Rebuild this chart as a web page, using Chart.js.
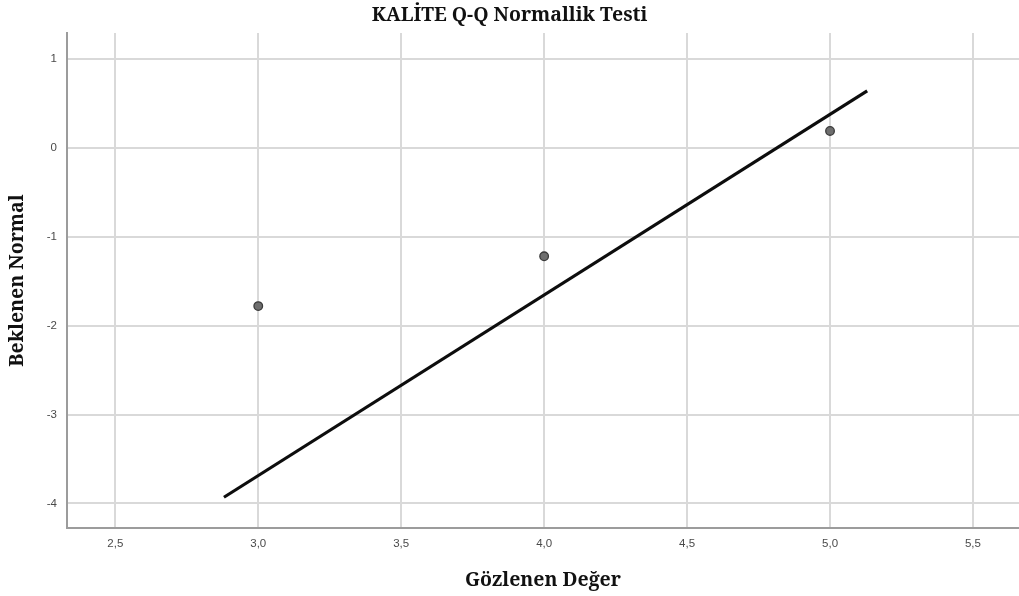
<!DOCTYPE html>
<html>
<head>
<meta charset="utf-8">
<script src="https://cdn.jsdelivr.net/npm/chart.js@4.4.1/dist/chart.umd.min.js"></script>
<style>
  html, body { margin: 0; padding: 0; background: #fff; overflow: hidden; }
  canvas { display: block; }
</style>
</head>
<body>
<canvas id="qqCanvas" width="1019" height="596"></canvas>
<script>
// observed values and expected normal quantiles
var observed = [3.0, 4.0, 5.0];
var expected = [-1.78, -1.22, 0.19];

// reference line end points
var lineX = [2.88, 5.13];
var lineY = [-3.93, 0.64];

// tick labels
var xTicks = [2.5, 3.0, 3.5, 4.0, 4.5, 5.0, 5.5];
var yTicks = [-4, -3, -2, -1, 0, 1];

var titleFont = '"Noto Serif", "DejaVu Serif", serif';
var tickFont = '"Liberation Sans Narrow", "Liberation Sans", sans-serif';

var points = observed.map(function (v, i) { return { x: v, y: expected[i] }; });
var refLine = lineX.map(function (v, i) { return { x: v, y: lineY[i] }; });

var canvas = document.getElementById("qqCanvas");

//**** Q-Q chart ****
var qqChart = new Chart(canvas, {
    type: 'scatter',
    data: {
        datasets: [{
            label: 'Gözlenen',
            data: points,
            pointRadius: 4.3,
            pointBackgroundColor: '#6e6e6e',
            pointBorderColor: '#3a3a3a',
            pointBorderWidth: 1.3,
            order: 2
        }, {
            label: 'Normal',
            data: refLine,
            showLine: true,
            borderColor: '#0d0d0d',
            borderWidth: 3.2,
            pointRadius: 0,
            order: 1
        }]
    },
    options: {
        responsive: false,
        maintainAspectRatio: false,
        animation: false,
        layout: { padding: 0, autoPadding: false },
        plugins: {
            legend: { display: false },
            tooltip: { enabled: false },
            title: {
                display: true,
                text: 'KALİTE Q-Q Normallik Testi',
                color: '#111111',
                font: { family: titleFont, size: 19.5, weight: 'bold' },
                padding: { top: 4, bottom: 5.6 }
            }
        },
        scales: {
            x: {
                type: 'linear',
                min: 2.331,
                max: 5.661,
                afterBuildTicks: function (scale) {
                    scale.ticks = xTicks.map(function (v) { return { value: v }; });
                },
                afterFit: function (scale) {
                    scale.height = 68;
                    scale.paddingLeft = 0;
                    scale.paddingRight = 0;
                },
                grid: { color: '#d9d9d9', lineWidth: 2, drawTicks: false },
                border: { color: '#9c9c9c', width: 2 },
                ticks: {
                    color: '#4a4a4a',
                    padding: 9,
                    maxRotation: 0,
                    font: { family: tickFont, size: 11.5 },
                    callback: function (v) { return v.toFixed(1).replace('.', ','); }
                },
                title: {
                    display: true,
                    text: 'Gözlenen Değer',
                    color: '#111111',
                    font: { family: titleFont, size: 19.5, weight: 'bold' },
                    padding: { top: 0, bottom: 4.3 }
                }
            },
            y: {
                type: 'linear',
                min: -4.276,
                max: 1.292,
                afterBuildTicks: function (scale) {
                    scale.ticks = yTicks.map(function (v) { return { value: v }; });
                },
                afterFit: function (scale) {
                    scale.width = 67;
                    scale.paddingTop = 0;
                    scale.paddingBottom = 0;
                },
                grid: { color: '#d9d9d9', lineWidth: 2, drawTicks: false },
                border: { color: '#9c9c9c', width: 2 },
                ticks: {
                    color: '#4a4a4a',
                    padding: 10,
                    font: { family: tickFont, size: 11.5 },
                    callback: function (v) { return String(v); }
                },
                title: {
                    display: true,
                    text: 'Beklenen Normal',
                    color: '#111111',
                    font: { family: titleFont, size: 19.5, weight: 'bold' },
                    padding: { top: 5.3, bottom: 0 }
                }
            }
        }
    }
});
//**** END OF Q-Q chart ****
</script>
</body>
</html>
